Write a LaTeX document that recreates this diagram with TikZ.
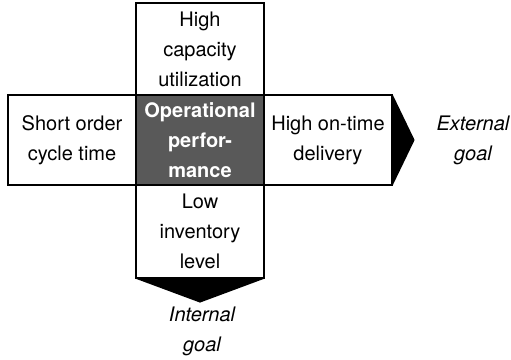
\documentclass[tikz,border=0pt]{standalone}
\usepackage{fontspec}
\setmainfont{TeX Gyre Heros}
\begin{document}
\begin{tikzpicture}[x=0.5pt,y=-0.5pt,
  box/.style={draw,line width=0.6pt,inner sep=0pt,minimum width=64pt,align=center,font=\fontsize{10}{15}\selectfont},
  goal/.style={align=center,font=\fontsize{10}{15}\selectfont\itshape}]
\useasboundingbox (0,0) rectangle (511,360);
% boxes round the centre
\node[box,minimum height=46pt] (cap) at (200,49) {High\\capacity\\utilization};
\node[box,minimum height=46.5pt] (inv) at (200,231.5) {Low\\inventory\\level};
\node[box,minimum height=45pt] (cyc) at (72,140) {Short order\\cycle time};
\node[box,minimum height=45pt] (del) at (328,140) {High on-time\\delivery};
% centre
\node[box,minimum height=45pt,fill=black!65,text=white,font=\fontsize{10}{15}\selectfont\bfseries] (op) at (200,140) {Operational\\perfor-\\mance};
% arrow heads to the goals
\fill (del.north east) -- ([xshift=11pt]del.east) -- (del.south east) -- cycle;
\fill (inv.south west) -- ([yshift=-12pt]inv.south) -- (inv.south east) -- cycle;
\node[goal] (ext) at (473,140) {External\\goal};
\node[goal] (int) at (202,331) {Internal\\goal};
\end{tikzpicture}
\end{document}
